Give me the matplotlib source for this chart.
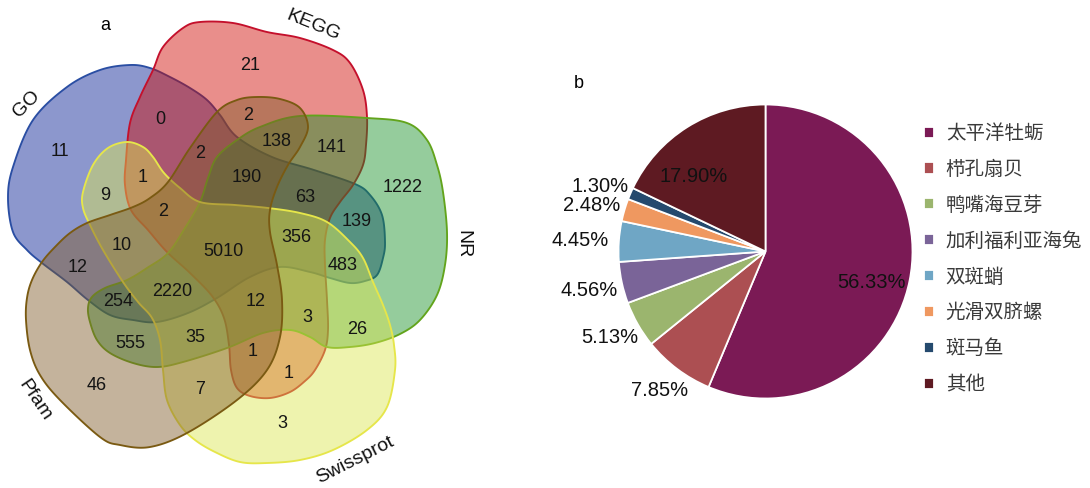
import numpy as np
import matplotlib
matplotlib.use("Agg")
import matplotlib.pyplot as plt
from matplotlib.colors import to_rgba
from matplotlib.patches import Polygon

# ---------------- data ----------------
set_names = ["GO", "KEGG", "NR", "Swissprot", "Pfam"]
region_counts = [11, 21, 1222, 3, 46,            # single sets
                 0, 141, 26, 7, 12,              # adjacent pairs
                 9, 2, 139, 1, 555,              # non-adjacent pairs
                 1, 2, 63, 483, 3, 35, 1, 254, 138, 10,
                 2, 190, 356, 12, 2220,          # four sets
                 5010]                           # all five

species = ["太平洋牡蛎", "栉孔扇贝", "鸭嘴海豆芽", "加利福利亚海兔",
           "双斑蛸", "光滑双脐螺", "斑马鱼", "其他"]
species_pct = [56.33, 7.85, 5.13, 4.56, 4.45, 2.48, 1.30, 17.90]

# ---------------- layout / style ----------------
W, H, DPI = 1090, 488, 100
SANS = ["Liberation Sans", "DejaVu Sans"]
CJK = ["Noto Sans CJK SC", "DejaVu Sans"]

FILL_ALPHA = 0.46
set_fill = ["#061e92", "#cf0a02", "#199028", "#dbe64f", "#7f5a28"]
set_edge = ["#2a4ea3", "#c4102c", "#62a41c", "#e6e64a", "#7a5a12"]

# outlines of the five sets (canvas pixels, y downwards)
outlines = [
    [(130, 65), (150, 68), (170, 77), (190, 88), (207, 100), (220, 115), (237, 137),
     (272, 157), (314, 170), (355, 184), (370, 195), (382, 215), (385, 242),
     (383, 258), (377, 275), (365, 281), (350, 283), (330, 278), (310, 272),
     (280, 267), (250, 277), (217, 298), (188, 313), (157, 322), (133, 320),
     (110, 315), (88, 300), (67, 282), (42, 263), (27, 250), (13, 232), (8, 198),
     (13, 167), (33, 120), (67, 87), (100, 70)],
    [(153, 70), (163, 47), (183, 28), (200, 22), (233, 23), (267, 32), (300, 38),
     (333, 50), (350, 63), (363, 90), (367, 117), (366, 145), (363, 165),
     (353, 185), (340, 202), (330, 218), (325, 240), (325, 265), (327, 300),
     (328, 330), (325, 350), (315, 370), (305, 381), (290, 392), (270, 398),
     (250, 396), (237, 388), (231, 370), (229, 345), (224, 318), (212, 296),
     (190, 273), (167, 252), (148, 230), (131, 210), (125, 185), (126, 160),
     (130, 123), (140, 97)],
    [(260, 127), (300, 116), (367, 118), (407, 123), (427, 140), (437, 165),
     (443, 192), (447, 232), (445, 265), (437, 295), (420, 320), (400, 334),
     (375, 343), (350, 347), (327, 347), (310, 337), (290, 330), (263, 333),
     (227, 348), (183, 362), (157, 367), (133, 363), (110, 353), (97, 340),
     (90, 322), (88, 308), (92, 297), (105, 288), (127, 280), (147, 268),
     (168, 253), (185, 228), (200, 202), (208, 178), (217, 157), (237, 140)],
    [(127, 142), (143, 147), (153, 157), (164, 173), (180, 188), (200, 202),
     (235, 205), (268, 208), (300, 213), (327, 222), (350, 242), (363, 258),
     (373, 282), (383, 305), (390, 325), (394, 345), (395, 370), (387, 407),
     (367, 430), (333, 450), (300, 460), (267, 463), (240, 462), (215, 452),
     (195, 440), (180, 425), (167, 400), (163, 370), (160, 340), (152, 318),
     (138, 302), (123, 282), (103, 250), (90, 225), (83, 208), (83, 192),
     (93, 165), (108, 148)],
    [(237, 100), (257, 97), (280, 99), (300, 108), (308, 127), (300, 147),
     (288, 165), (277, 187), (270, 210), (270, 232), (277, 265), (282, 300),
     (280, 337), (267, 370), (237, 400), (187, 433), (150, 447), (120, 445),
     (100, 437), (60, 400), (40, 375), (30, 350), (26, 320), (27, 298),
     (32, 280), (42, 262), (55, 247), (70, 233), (87, 223), (110, 215),
     (133, 207), (150, 198), (168, 182), (190, 148), (217, 112)],
]

# where each region count is written (same order as region_counts)
region_xy = [(60, 152), (250, 65), (403, 187), (282, 423), (97, 385),
             (160, 120), (332, 148), (357, 330), (200, 390), (78, 267),
             (105, 195), (248, 115), (357, 222), (289, 373), (130, 343),
             (143, 178), (200, 153), (305, 197), (343, 265), (307, 318),
             (195, 338), (253, 352), (118, 302), (277, 142), (122, 245),
             (163, 212), (247, 178), (296, 238), (256, 302), (172, 291),
             (223, 252)]

set_label_xy = [(27, 104), (313, 25), (463, 244), (355, 460), (35, 400)]
set_label_rot = [45, -22, -90, 27, -56]

pie_colors = ["#7b1a55", "#ac4f52", "#9bb56e", "#7a6498",
              "#6fa6c5", "#ef9860", "#254a6e", "#5e1a22"]
# label anchor points in pie units (radius = 1)
pct_xy = [(0.724, -0.214), (-0.724, -0.946), (-1.058, -0.585), (-1.201, -0.262),
          (-1.262, 0.075), (-1.180, 0.316), (-1.126, 0.440), (-0.487, 0.513)]


def closed_spline(pts, n=24):
    """Smooth closed Catmull-Rom curve through the given points."""
    P = np.asarray(pts, float)
    N = len(P)
    t = np.linspace(0, 1, n, endpoint=False)[:, None]
    segs = []
    for i in range(N):
        p0, p1, p2, p3 = P[i - 1], P[i], P[(i + 1) % N], P[(i + 2) % N]
        segs.append(0.5 * (2 * p1 + (-p0 + p2) * t
                           + (2 * p0 - 5 * p1 + 4 * p2 - p3) * t ** 2
                           + (-p0 + 3 * p1 - 3 * p2 + p3) * t ** 3))
    return np.vstack(segs)


fig = plt.figure(figsize=(W / DPI, H / DPI), dpi=DPI)
fig.patch.set_facecolor("white")

# ---------------- a: five-set Venn ----------------
ax = fig.add_axes([0, 0, 1, 1])
ax.set_xlim(0, W)
ax.set_ylim(H, 0)
ax.axis("off")

for pts, fc, ec in zip(outlines, set_fill, set_edge):
    curve = closed_spline(pts)
    ax.add_patch(Polygon(curve, closed=True, facecolor=to_rgba(fc, FILL_ALPHA),
                         edgecolor="none", zorder=1))
    ax.add_patch(Polygon(curve, closed=True, facecolor="none",
                         edgecolor=ec, lw=1.35, zorder=1))

for n, (x, y) in zip(region_counts, region_xy):
    ax.text(x, y, str(n), ha="center", va="center", fontsize=13,
            family=SANS, color="#141414", zorder=3)

for name, (x, y), r in zip(set_names, set_label_xy, set_label_rot):
    ax.text(x, y, name, ha="center", va="center", rotation=r,
            rotation_mode="anchor", fontsize=14, family=SANS, color="#111111")

ax.text(105, 25, "a", ha="center", va="center", fontsize=13, family=SANS)
ax.text(579, 83, "b", ha="center", va="center", fontsize=13, family=SANS)

# ---------------- b: species pie ----------------
cx, cy, R = 765.5, 251.5, 147.0
pax = fig.add_axes([(cx - R) / W, (H - cy - R) / H, 2 * R / W, 2 * R / H])
wedges, _ = pax.pie(species_pct, colors=pie_colors, startangle=90,
                    counterclock=False, radius=1,
                    wedgeprops=dict(edgecolor="white", linewidth=1.3))
pax.set_xlim(-1, 1)
pax.set_ylim(-1, 1)
pax.set_aspect("equal")
pax.axis("off")

for v, (x, y) in zip(species_pct, pct_xy):
    pax.text(x, y, f"{v:.2f}%", ha="center", va="center", fontsize=14.5,
             family=SANS, color="#111111", clip_on=False)

leg = pax.legend(wedges, species, loc="upper left",
                 bbox_to_anchor=(924 / W, 1 - 123 / H),
                 bbox_transform=fig.transFigure, frameon=False,
                 prop={"family": CJK, "size": 14},
                 handlelength=0.5, handleheight=0.5, handletextpad=0.62,
                 labelspacing=0.765, borderaxespad=0, borderpad=0)
for t in leg.get_texts():
    t.set_color("#3a3a3a")

fig.savefig("out.png", dpi=DPI, facecolor="white")
